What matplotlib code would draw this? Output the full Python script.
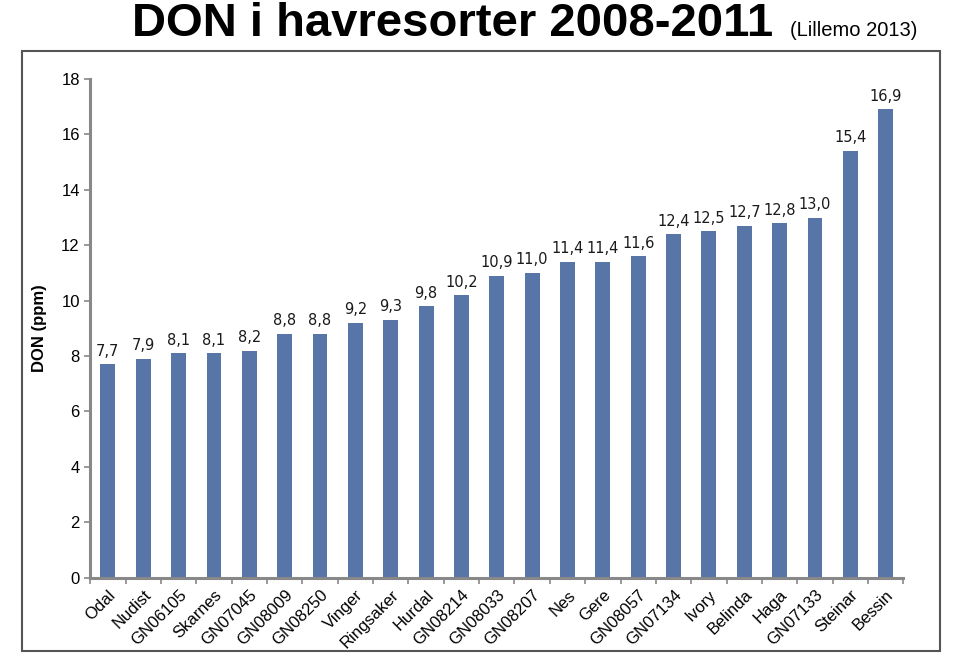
import matplotlib.pyplot as plt
from matplotlib.patches import Rectangle

sorter = ["Odal", "Nudist", "GN06105", "Skarnes", "GN07045", "GN08009", "GN08250",
          "Vinger", "Ringsaker", "Hurdal", "GN08214", "GN08033", "GN08207", "Nes",
          "Gere", "GN08057", "GN07134", "Ivory", "Belinda", "Haga", "GN07133",
          "Steinar", "Bessin"]
don = [7.7, 7.9, 8.1, 8.1, 8.2, 8.8, 8.8, 9.2, 9.3, 9.8, 10.2, 10.9, 11.0, 11.4,
       11.4, 11.6, 12.4, 12.5, 12.7, 12.8, 13.0, 15.4, 16.9]

plt.rcParams['font.family'] = ['Liberation Sans', 'DejaVu Sans']

fig = plt.figure(figsize=(9.6, 6.58), dpi=100)
ax = fig.add_axes([0.094, 0.122, 0.847, 0.758])

x = list(range(len(sorter)))
ax.bar(x, don, width=0.42, color="#5875a8", zorder=2)
for xi, v in zip(x, don):
    ax.text(xi, v + 0.2, f"{v:.1f}".replace(".", ","), ha="center", va="bottom",
            fontsize=10.5, color="#1a1a1a", family="DejaVu Sans")

ax.set_xlim(-0.5, len(sorter) - 0.5)
ax.set_ylim(0, 18)
ax.set_yticks(range(0, 19, 2))
ax.set_xticks(x)
ax.set_xticklabels(sorter, rotation=45, ha="right", rotation_mode="anchor", fontsize=12)
ax.set_xticks([i - 0.5 for i in range(len(sorter) + 1)], minor=True)
ax.tick_params(axis="x", which="major", length=0, pad=7)
ax.tick_params(axis="x", which="minor", length=4, width=1.2, color="#888888", direction="out")
ax.tick_params(axis="y", length=4, width=1.2, color="#888888", labelsize=12)
ax.set_ylabel("DON (ppm)", fontsize=12, fontweight="bold", labelpad=10)

for side in ["top", "right"]:
    ax.spines[side].set_visible(False)
for side in ["left", "bottom"]:
    ax.spines[side].set_color("#888888")
    ax.spines[side].set_linewidth(2.2)

# ramme rundt diagrammet
fig.patches.append(Rectangle((0.023, 0.011), 0.956, 0.912, transform=fig.transFigure,
                             fill=False, edgecolor="#555555", linewidth=1.5))

fig.text(0.138, 0.945, "DON i havresorter 2008-2011", fontsize=34, fontweight="bold",
         ha="left", va="baseline")
fig.text(0.823, 0.945, "(Lillemo 2013)", fontsize=14.5, ha="left", va="baseline")

fig.savefig("out.png", dpi=100)
